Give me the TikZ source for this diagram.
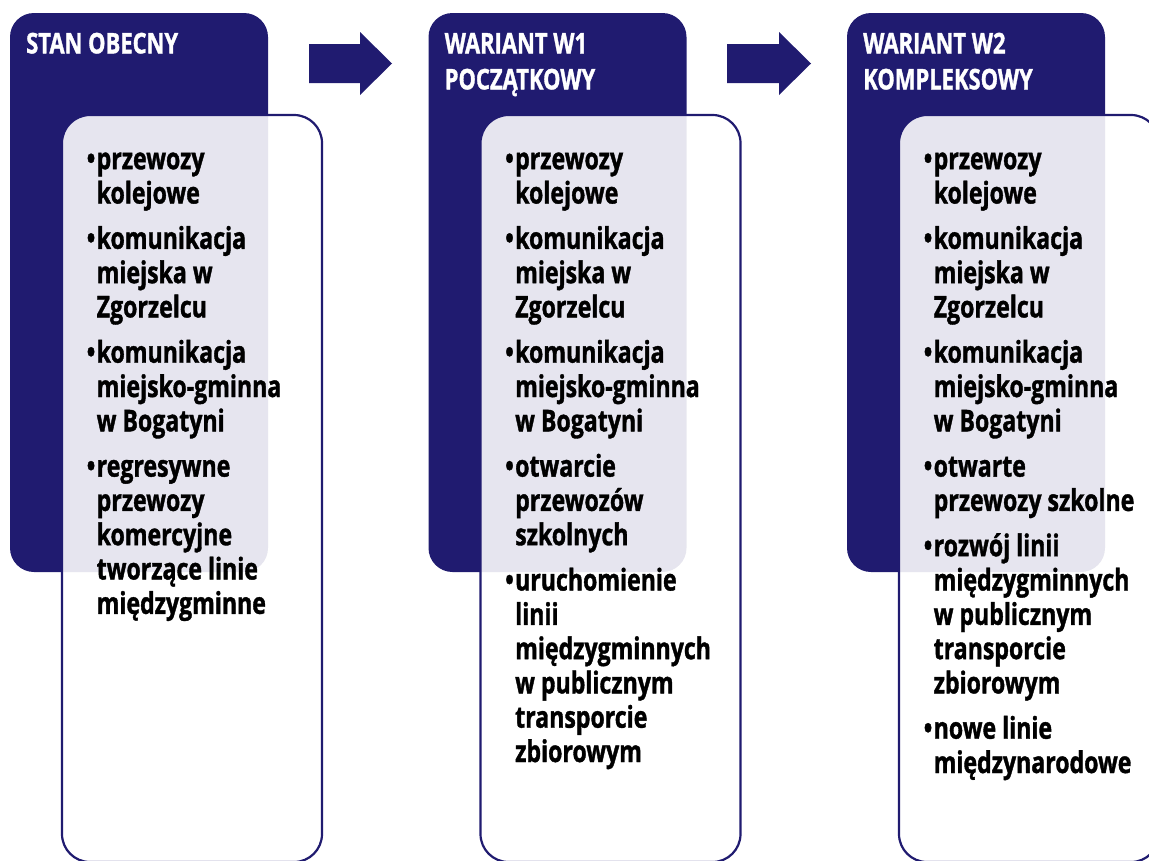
\documentclass[tikz,border=0pt]{standalone}
\usepackage{fontspec}
\setmainfont{Open Sans}[FakeStretch=0.77, BoldFeatures={FakeBold=1.2}]
\definecolor{navy}{RGB}{32,27,112}
\newcommand\bul{\makebox[10pt][l]{•}}
\newcommand\ind{\hspace*{10pt}}
\begin{document}
\begin{tikzpicture}[x=1pt,y=-1pt,
  hdrbox/.style={fill=navy, rounded corners=24pt},
  card/.style={fill=white, fill opacity=0.89, draw=navy, draw opacity=1, line width=2.2pt, rounded corners=28pt},
  hdrtext/.style={anchor=north west, inner sep=0pt, align=left, text=white,
    font=\fontsize{28.5}{36}\selectfont\bfseries},
  bodytext/.style={anchor=north west, inner sep=0pt, align=left, text=black,
    font=\fontsize{30}{34.3}\selectfont\bfseries},
  blockarrow/.style={fill=navy}
]
\useasboundingbox (0,0) rectangle (1149,860);
\clip (0,0) rectangle (1149,860);
\foreach \dx in {0,418.5,837}{
  \path[hdrbox] (10+\dx,13) rectangle (268+\dx,572);
  \path[card] (62+\dx,115) rectangle (322+\dx,862);
}
% arrows
\fill[blockarrow] (309,44) -- (360,44) -- (360,32) -- (392,63.5) -- (360,95) -- (360,83) -- (309,83) -- cycle;
\fill[blockarrow] (727,44) -- (779,44) -- (779,32) -- (811,63.5) -- (779,95) -- (779,83) -- (727,83) -- cycle;
% headers
\node[hdrtext] (h1) at (26,28) {\strut STAN OBECNY};
\node[hdrtext] (h2) at (444.5,28) {\strut WARIANT W1\\POCZĄTKOWY};
\node[hdrtext] (h3) at (863,28) {\strut WARIANT W2\\KOMPLEKSOWY};
% bodies
\node[bodytext] (b1) at (86.5,145) {\strut\bul przewozy\\ \ind kolejowe\\[11pt]
 \bul komunikacja\\ \ind miejska w\\ \ind Zgorzelcu\\[11pt]
 \bul komunikacja\\ \ind miejsko-gminna\\ \ind w Bogatyni\\[11pt]
 \bul regresywne\\ \ind przewozy\\ \ind komercyjne\\ \ind tworzące linie\\ \ind międzygminne};
\node[bodytext] (b2) at (505,145) {\strut\bul przewozy\\ \ind kolejowe\\[11pt]
 \bul komunikacja\\ \ind miejska w\\ \ind Zgorzelcu\\[11pt]
 \bul komunikacja\\ \ind miejsko-gminna\\ \ind w Bogatyni\\[11pt]
 \bul otwarcie\\ \ind przewozów\\ \ind szkolnych\\[11pt]
 \bul uruchomienie\\ \ind linii\\ \ind międzygminnych\\ \ind w publicznym\\ \ind transporcie\\ \ind zbiorowym};
\node[bodytext] (b3) at (923.5,145) {\strut\bul przewozy\\ \ind kolejowe\\[11pt]
 \bul komunikacja\\ \ind miejska w\\ \ind Zgorzelcu\\[11pt]
 \bul komunikacja\\ \ind miejsko-gminna\\ \ind w Bogatyni\\[11pt]
 \bul otwarte\\ \ind przewozy szkolne\\[11pt]
 \bul rozwój linii\\ \ind międzygminnych\\ \ind w publicznym\\ \ind transporcie\\ \ind zbiorowym\\[11pt]
 \bul nowe linie\\ \ind międzynarodowe};
\end{tikzpicture}
\end{document}
